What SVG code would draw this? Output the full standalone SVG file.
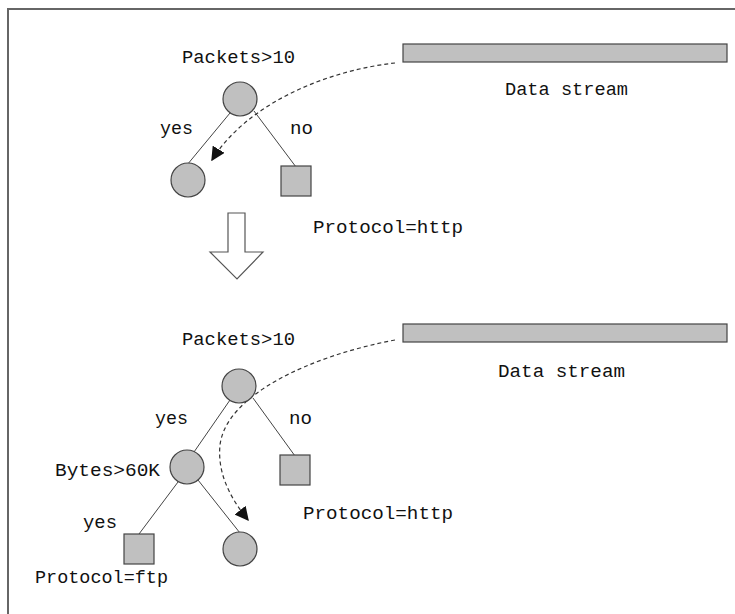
<svg xmlns="http://www.w3.org/2000/svg" width="735" height="614" viewBox="0 0 735 614">
  <style>
    text { font-family: "Liberation Mono", "DejaVu Sans Mono", monospace; font-size: 19px; fill: #111; }
    .node { fill: #c0c0c0; stroke: #444; stroke-width: 1.2; }
    .edge { stroke: #444; stroke-width: 1; fill: none; }
    .flow { stroke: #333; stroke-width: 1.2; fill: none; stroke-dasharray: 4 3; }
  </style>
  <defs>
    <marker id="tip" viewBox="0 0 10 10" refX="9" refY="5" markerWidth="14" markerHeight="14" markerUnits="userSpaceOnUse" orient="auto">
      <path d="M0,0 L10,5 L0,10 Z" fill="#111"/>
    </marker>
  </defs>

  <!-- frame -->
  <path d="M8,614 L8,9 L735,9" fill="none" stroke="#666" stroke-width="2"/>

  <!-- tree edges and flow paths -->
  <g id="connectors">
    <line class="edge" x1="230" y1="113" x2="187" y2="165"/>
    <line class="edge" x1="254" y1="111" x2="296" y2="167"/>
    <path class="flow" d="M395,63 C330,70 248,102 212,160" marker-end="url(#tip)"/>

    <line class="edge" x1="230" y1="400" x2="194" y2="452"/>
    <line class="edge" x1="253" y1="398" x2="295" y2="456"/>
    <line class="edge" x1="178" y1="482" x2="139" y2="534"/>
    <line class="edge" x1="198" y1="480" x2="240" y2="533"/>
    <path class="flow" d="M395,340 C310,356 226,395 220,445 C217,475 232,500 248,520" marker-end="url(#tip)"/>
  </g>

  <!-- upper tree -->
  <g id="stream1">
    <rect class="node" x="403" y="44" width="324" height="18"/>
    <text x="505" y="95" textLength="123" lengthAdjust="spacingAndGlyphs">Data stream</text>
  </g>
  <g id="root1">
    <circle class="node" cx="240" cy="99" r="17"/>
    <text x="182" y="63" textLength="113" lengthAdjust="spacingAndGlyphs">Packets&gt;10</text>
    <text x="160" y="134" textLength="33" lengthAdjust="spacingAndGlyphs">yes</text>
    <text x="290" y="134" textLength="23" lengthAdjust="spacingAndGlyphs">no</text>
  </g>
  <g id="leaf1a">
    <circle class="node" cx="188" cy="180" r="17"/>
  </g>
  <g id="leaf1b">
    <rect class="node" x="281" y="166" width="30" height="30"/>
    <text x="313" y="233" textLength="150" lengthAdjust="spacingAndGlyphs">Protocol=http</text>
  </g>

  <!-- transition arrow -->
  <g id="step">
    <polygon points="228,213 245,213 245,252 263,252 237,279 210,252 228,252" fill="#fff" stroke="#555" stroke-width="1.2"/>
  </g>

  <!-- lower tree -->
  <g id="stream2">
    <rect class="node" x="403" y="324" width="324" height="18"/>
    <text x="498" y="377" textLength="127" lengthAdjust="spacingAndGlyphs">Data stream</text>
  </g>
  <g id="root2">
    <circle class="node" cx="239" cy="386" r="17"/>
    <text x="182" y="345" textLength="113" lengthAdjust="spacingAndGlyphs">Packets&gt;10</text>
    <text x="155" y="424" textLength="33" lengthAdjust="spacingAndGlyphs">yes</text>
    <text x="289" y="424" textLength="23" lengthAdjust="spacingAndGlyphs">no</text>
  </g>
  <g id="bytes">
    <circle class="node" cx="187" cy="467" r="17"/>
    <text x="55" y="476" textLength="105" lengthAdjust="spacingAndGlyphs">Bytes&gt;60K</text>
    <text x="83" y="528" textLength="34" lengthAdjust="spacingAndGlyphs">yes</text>
  </g>
  <g id="leaf2http">
    <rect class="node" x="280" y="455" width="30" height="30"/>
    <text x="303" y="519" textLength="150" lengthAdjust="spacingAndGlyphs">Protocol=http</text>
  </g>
  <g id="leaf2ftp">
    <rect class="node" x="124" y="534" width="30" height="30"/>
    <text x="35" y="583" textLength="133" lengthAdjust="spacingAndGlyphs">Protocol=ftp</text>
  </g>
  <g id="leaf2new">
    <circle class="node" cx="240" cy="549" r="17"/>
  </g>
</svg>
